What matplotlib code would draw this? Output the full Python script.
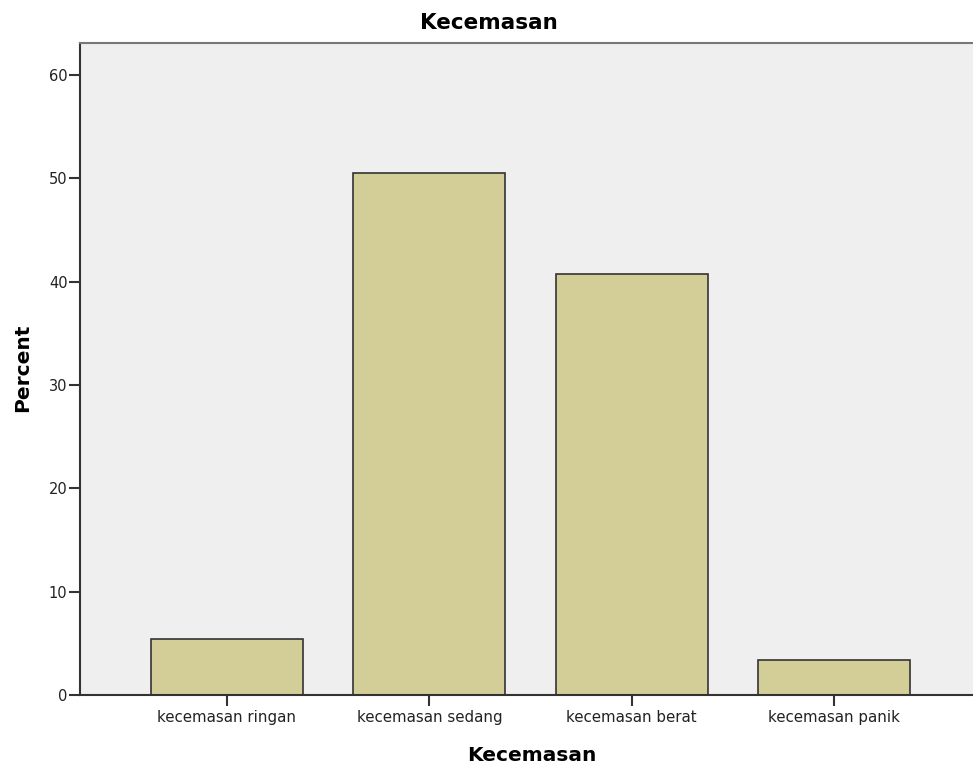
import matplotlib.pyplot as plt

categories = ["kecemasan ringan", "kecemasan sedang", "kecemasan berat", "kecemasan panik"]
percent = [5.4, 50.5, 40.7, 3.4]
yticks = [0, 10, 20, 30, 40, 50, 60]

plt.rcParams['font.family'] = ['DejaVu Sans']

fig = plt.figure(figsize=(9.73, 7.69), dpi=100)
ax = fig.add_axes([0.0822, 0.0962, 0.9178, 0.848])
ax.set_facecolor("#efefef")

x = list(range(len(categories)))
ax.bar(x, percent, width=0.75, color="#d3ce98", edgecolor="#333333", linewidth=1.2, zorder=2)

ax.set_xlim(-0.726, 3.686)
ax.set_ylim(0, 63.1)
ax.set_yticks(yticks)
ax.set_xticks(x)
ax.set_xticklabels(categories)
ax.tick_params(axis='y', labelsize=10.5, labelcolor="#222222", length=8, width=1.5, color="#333333", pad=1)
ax.tick_params(axis='x', labelsize=10.8, labelcolor="#222222", length=8, width=1.5, color="#333333", pad=3)

for s in ["left", "bottom"]:
    ax.spines[s].set_color("#333333")
    ax.spines[s].set_linewidth(1.5)
ax.spines["top"].set_color("#777777")
ax.spines["top"].set_linewidth(1.5)
ax.spines["right"].set_visible(False)

# judul di tengah figure, label sumbu diatur manual
fig.text(0.5026, 0.9707, "Kecemasan", fontsize=15.5, fontweight="bold", ha="center", va="center")
ax.set_xlabel("Kecemasan", fontsize=14.5, fontweight="bold", va="center")
ax.xaxis.set_label_coords(0.5056, -0.092)
ax.set_ylabel("Percent", fontsize=14.5, fontweight="bold", va="center")
ax.yaxis.set_label_coords(-0.0644, 0.502)

fig.savefig("out.png", dpi=100)
